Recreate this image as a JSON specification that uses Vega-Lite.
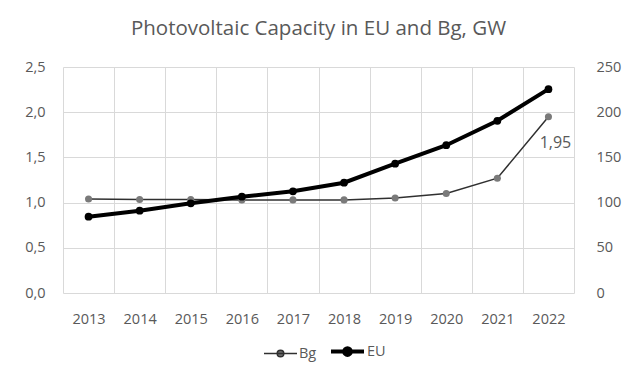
{
  "$schema": "https://vega.github.io/schema/vega-lite/v6.json",
  "width": 511,
  "height": 226,
  "autosize": "none",
  "padding": {"left": 63, "top": 67, "right": 61, "bottom": 81},
  "background": "white",
  "title": {
    "text": "Photovoltaic Capacity in EU and Bg, GW",
    "font": "Open Sans",
    "fontSize": 20.5,
    "fontWeight": "normal",
    "color": "#595959",
    "anchor": "middle",
    "offset": 20
  },
  "data": {
    "values": [
      {"year": 2013, "Bg": 1.04, "EU": 84.4},
      {"year": 2014, "Bg": 1.035, "EU": 91},
      {"year": 2015, "Bg": 1.035, "EU": 99.2},
      {"year": 2016, "Bg": 1.03, "EU": 106.5},
      {"year": 2017, "Bg": 1.03, "EU": 112.5},
      {"year": 2018, "Bg": 1.03, "EU": 122},
      {"year": 2019, "Bg": 1.05, "EU": 143},
      {"year": 2020, "Bg": 1.1, "EU": 163.5},
      {"year": 2021, "Bg": 1.27, "EU": 190.5},
      {"year": 2022, "Bg": 1.95, "EU": 225.5}
    ]
  },
  "encoding": {
    "x": {
      "field": "year",
      "type": "quantitative",
      "scale": {"domain": [2012.5, 2022.5], "nice": false, "zero": false},
      "axis": {
        "title": null,
        "values": [2012.5, 2013, 2013.5, 2014, 2014.5, 2015, 2015.5, 2016, 2016.5, 2017, 2017.5, 2018, 2018.5, 2019, 2019.5, 2020, 2020.5, 2021, 2021.5, 2022, 2022.5],
        "labelExpr": "datum.value % 1 === 0 ? toString(datum.value) : ''",
        "grid": true,
        "gridColor": "#d9d9d9",
        "gridOpacity": {"condition": {"test": "datum.value % 1 !== 0", "value": 1}, "value": 0},
        "domain": false,
        "ticks": false,
        "labelPadding": 19,
        "labelFont": "Open Sans",
        "labelFontSize": 14.5,
        "labelColor": "#595959",
        "labelFlush": false,
        "labelOverlap": false
      }
    }
  },
  "layer": [
    {
      "encoding": {
        "y": {
          "field": "Bg",
          "type": "quantitative",
          "scale": {"domain": [0, 2.5], "nice": false},
          "axis": {
            "title": null,
            "orient": "left",
            "values": [0, 0.5, 1, 1.5, 2, 2.5],
            "format": ".1f",
            "grid": true,
            "gridColor": "#d9d9d9",
            "domain": false,
            "ticks": false,
            "labelPadding": 18,
            "labelFont": "Open Sans",
            "labelFontSize": 14.5,
            "labelColor": "#595959"
          }
        }
      },
      "layer": [
        {
          "mark": {"type": "line"},
          "encoding": {
            "color": {
              "datum": "Bg",
              "type": "nominal",
              "scale": {"domain": ["Bg", "EU"], "range": ["#303030", "#000000"]},
              "legend": {
                "title": null,
                "orient": "none",
                "legendX": 200,
                "legendY": 266,
                "direction": "horizontal",
                "symbolType": "M-1,0L1,0M-0.2,0A0.2,0.2,0,1,0,0.2,0A0.2,0.2,0,1,0,-0.2,0Z",
                "symbolSize": 1089,
                "symbolFillColor": "#6a6a6a",
                "labelFont": "Open Sans",
                "labelFontSize": 14.5,
                "labelColor": "#595959",
                "labelOffset": 1,
                "columnPadding": 6
              }
            },
            "strokeWidth": {
              "datum": "Bg",
              "type": "ordinal",
              "scale": {"domain": ["Bg", "EU"], "range": [1.5, 4]},
              "legend": {
                "title": null,
                "orient": "none",
                "legendX": 200,
                "legendY": 266,
                "direction": "horizontal",
                "symbolType": "M-1,0L1,0M-0.2,0A0.2,0.2,0,1,0,0.2,0A0.2,0.2,0,1,0,-0.2,0Z",
                "symbolSize": 1089,
                "symbolFillColor": "#6a6a6a",
                "labelFont": "Open Sans",
                "labelFontSize": 14.5,
                "labelColor": "#595959",
                "labelOffset": 1,
                "columnPadding": 6
              }
            }
          }
        },
        {
          "mark": {"type": "point", "filled": true, "size": 50, "opacity": 1, "color": "#7a7a7a"},
          "encoding": {}
        },
        {
          "transform": [{"filter": "datum.year === 2022"}],
          "mark": {"type": "text", "dx": 7, "dy": 26, "font": "Open Sans", "fontSize": 16, "color": "#595959"},
          "encoding": {
            "text": {"field": "Bg", "type": "quantitative", "format": ".2f"}
          }
        }
      ]
    },
    {
      "encoding": {
        "y": {
          "field": "EU",
          "type": "quantitative",
          "scale": {"domain": [0, 250], "nice": false},
          "axis": {
            "title": null,
            "orient": "right",
            "values": [0, 50, 100, 150, 200, 250],
            "format": "d",
            "grid": false,
            "domain": false,
            "ticks": false,
            "labelPadding": 22,
            "labelFont": "Open Sans",
            "labelFontSize": 14.5,
            "labelColor": "#595959"
          }
        }
      },
      "layer": [
        {
          "mark": {"type": "line"},
          "encoding": {
            "color": {"datum": "EU", "type": "nominal"},
            "strokeWidth": {"datum": "EU", "type": "ordinal"}
          }
        },
        {
          "mark": {"type": "point", "filled": true, "size": 60, "opacity": 1, "color": "#000000"},
          "encoding": {}
        }
      ]
    }
  ],
  "resolve": {"scale": {"y": "independent"}},
  "config": {
    "view": {"stroke": null},
    "locale": {
      "number": {"decimal": ",", "thousands": " ", "grouping": [3], "currency": ["", " €"]}
    }
  }
}
